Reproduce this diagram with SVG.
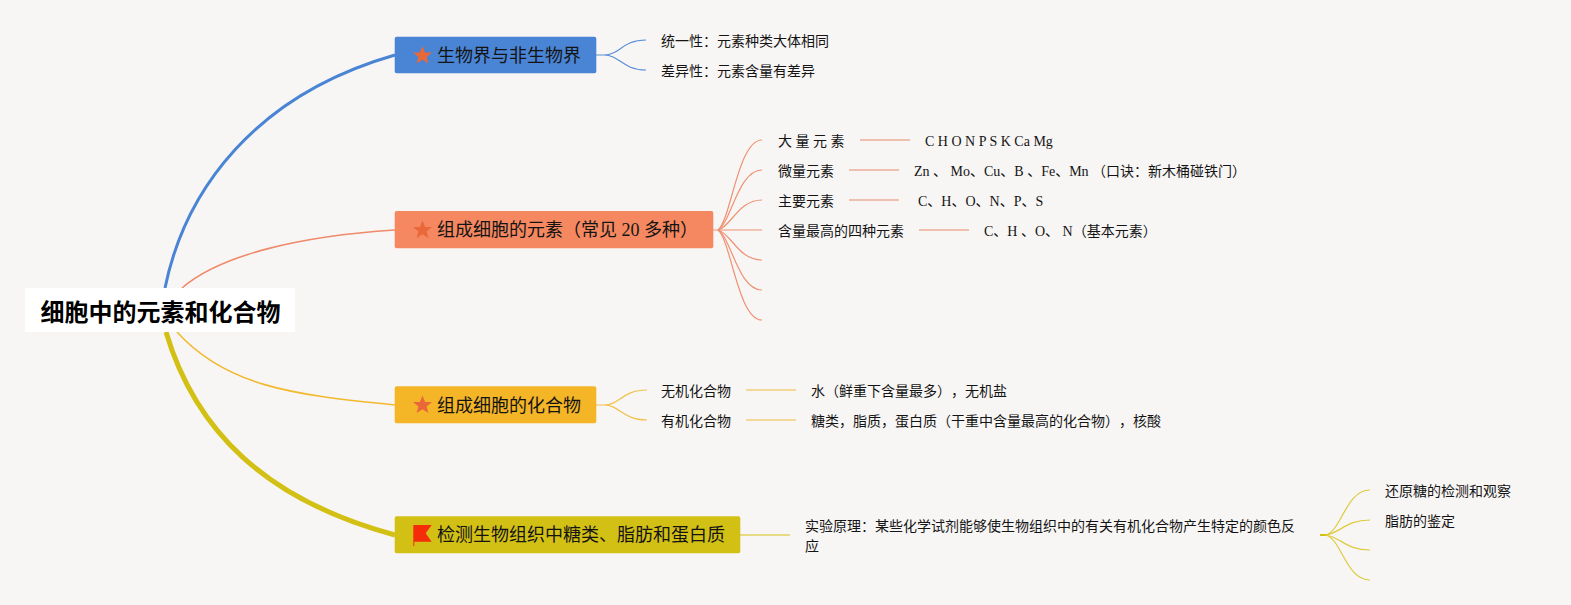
<svg xmlns="http://www.w3.org/2000/svg" width="1571" height="605" viewBox="0 0 1571 605">
<style>
text{font-family:"Liberation Serif","Noto Sans CJK SC",serif;fill:#141414;font-feature-settings:"chws" 0;text-spacing-trim:space-all}
.root{font-size:24px;font-weight:700;fill:#000}
.topic{font-size:18px}
.leaf{font-size:14px}
.c{fill:none}
.blue{stroke:#5a8fd6}
.orange{stroke:#ee9274}
.yellow{stroke:#f2c04a}
.olive{stroke:#dccb3c}
.thin{stroke-width:1.2}
.bar{stroke-width:2}
.star{fill:#e8683a}
</style>
<defs><polygon id="star" points="0,-9.500 2.600,-3.100 9.500,-2.900 4.100,1.400 5.900,8 0,4.200 -5.900,8 -4.100,1.400 -9.500,-2.900 -2.600,-3.100"/></defs>
<rect width="1571" height="605" fill="#f8f6f5"/>
<g id="connectors">
<path class="c" stroke="#4a84d4" stroke-width="3" d="M165 288C185 190 255 95 395 55"/>
<path class="c" stroke="#ef8a6b" stroke-width="1.600" d="M182 288C220 255 300 236 395 230"/>
<path class="c" stroke="#f2b92f" stroke-width="1.600" d="M177 332C225 385 290 395 395 405"/>
<path class="c" stroke="#d3c014" stroke-width="5" d="M166 332C195 430 265 500 395 535"/>
<path class="c blue thin" d="M596 55H604C620 55 622 40 646 40M604 55C620 55 622 70 646 70"/>
<g class="c orange thin">
<path d="M713 230H718C731 220 738 140 762 140"/>
<path d="M718 230C731 223 738 170 762 170"/>
<path d="M718 230C731 227 738 200 762 200"/>
<path d="M718 230H762"/>
<path d="M718 230C731 233 738 260 762 260"/>
<path d="M718 230C731 237 738 290 762 290"/>
<path d="M718 230C731 240 738 320 762 320"/>
</g>
<path class="c bar" stroke="#efc0ad" d="M860 140H910M849 170H899M849 200H899M919 230H969"/>
<path class="c yellow thin" d="M596 405H604C620 405 622 390 647 390M604 405C620 405 622 420 647 420"/>
<path class="c bar" stroke="#f3d998" d="M746 390H796M746 420H796"/>
<path class="c bar" stroke="#e6da84" d="M740 535H790"/>
<path class="c" stroke="#d3c014" stroke-width="2" d="M1320 535H1328"/>
<g class="c olive thin">
<path d="M1326 535C1342 530 1346 490 1370 490"/>
<path d="M1326 535C1342 532 1346 520 1370 520"/>
<path d="M1326 535C1342 538 1346 550 1370 550"/>
<path d="M1326 535C1342 540 1346 580 1370 580"/>
</g>
</g>
<g id="root"><rect x="25" y="288" width="270" height="44" fill="#fff"/><text class="root" x="40.500" y="320.500">细胞中的元素和化合物</text></g>
<g id="topic-1"><rect x="394.700" y="36.800" width="201.600" height="36.500" rx="2" fill="#4a84d4"/><use href="#star" x="422.500" y="55.500" class="star"/><text class="topic" x="437" y="62">生物界与非生物界</text></g>
<g id="topic-2"><rect x="394.700" y="211" width="318.600" height="37.300" rx="2" fill="#f58860"/><use href="#star" x="422.500" y="230" class="star"/><text class="topic" x="437" y="236" xml:space="preserve">组成细胞的元素（常见 20 多种）</text></g>
<g id="topic-3"><rect x="394.700" y="386.300" width="201.600" height="37" rx="2" fill="#f4b527"/><use href="#star" x="422.500" y="405" class="star"/><text class="topic" x="437" y="412">组成细胞的化合物</text></g>
<g id="topic-4"><rect x="394.700" y="516.300" width="345.600" height="37" rx="2" fill="#d3c014"/><path d="M413.300 525H431.700L425.700 533.300L431.700 541.700H414.300V546H413.300Z" fill="#f52c0a"/><text class="topic" x="437" y="541">检测生物组织中糖类、脂肪和蛋白质</text></g>
<g id="n-a1"><text class="leaf" x="661" y="46">统一性：元素种类大体相同</text></g>
<g id="n-a2"><text class="leaf" x="661" y="76">差异性：元素含量有差异</text></g>
<g id="n-b1"><text class="leaf" x="778" y="146" xml:space="preserve">大 量 元 素</text></g>
<g id="n-b1v"><text class="leaf" x="925" y="146" xml:space="preserve">C H O N P S K Ca Mg</text></g>
<g id="n-b2"><text class="leaf" x="778" y="176">微量元素</text></g>
<g id="n-b2v"><text class="leaf" x="914" y="176" xml:space="preserve">Zn 、 Mo、Cu、B 、Fe、Mn （口诀：新木桶碰铁门）</text></g>
<g id="n-b3"><text class="leaf" x="778" y="206">主要元素</text></g>
<g id="n-b3v"><text class="leaf" x="918" y="206" xml:space="preserve">C、H、O、N、P、S</text></g>
<g id="n-b4"><text class="leaf" x="778" y="236">含量最高的四种元素</text></g>
<g id="n-b4v"><text class="leaf" x="984" y="236" xml:space="preserve">C、H 、O、 N（基本元素）</text></g>
<g id="n-c1"><text class="leaf" x="661" y="396">无机化合物</text></g>
<g id="n-c1v"><text class="leaf" x="811" y="396">水（鲜重下含量最多），无机盐</text></g>
<g id="n-c2"><text class="leaf" x="661" y="426">有机化合物</text></g>
<g id="n-c2v"><text class="leaf" x="811" y="426">糖类，脂质，蛋白质（干重中含量最高的化合物），核酸</text></g>
<g id="n-d1"><text class="leaf" x="805" y="531">实验原理：某些化学试剂能够使生物组织中的有关有机化合物产生特定的颜色反</text><text class="leaf" x="805" y="551">应</text></g>
<g id="n-d2"><text class="leaf" x="1385" y="496">还原糖的检测和观察</text></g>
<g id="n-d3"><text class="leaf" x="1385" y="526">脂肪的鉴定</text></g>
</svg>
